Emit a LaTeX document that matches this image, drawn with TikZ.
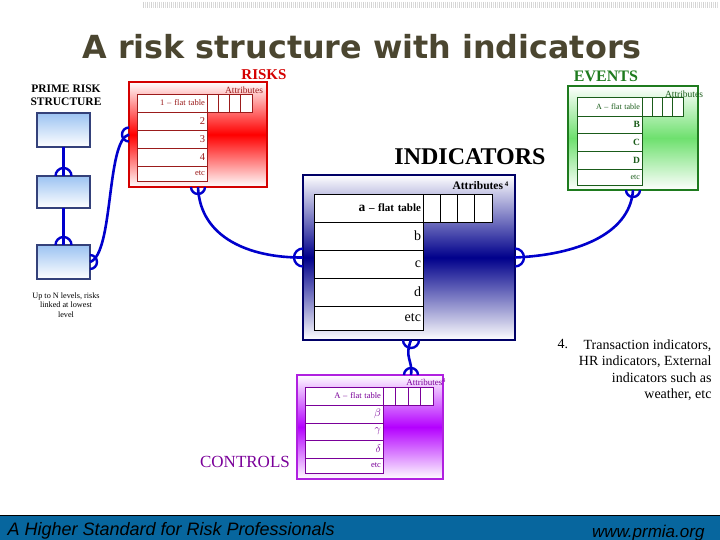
\documentclass[tikz,border=0pt]{standalone}
\usepackage{fontspec}
\setmainfont{Liberation Serif}
\newfontfamily\titlefont{DejaVu Sans}
\newfontfamily\footfont{Liberation Sans}
\definecolor{titlecol}{HTML}{4B4630}
\definecolor{riskred}{HTML}{D40000}
\definecolor{riskmid}{HTML}{FF0000}
\definecolor{risktxt}{HTML}{9B1B1B}
\definecolor{evgreen}{HTML}{1E7B1E}
\definecolor{evmid}{HTML}{6EE06E}
\definecolor{evtxt}{HTML}{1A5C1A}
\definecolor{indnavy}{HTML}{000066}
\definecolor{indmid}{HTML}{00008B}
\definecolor{ctrlcol}{HTML}{B020E0}
\definecolor{ctrlmid}{HTML}{B400FF}
\definecolor{ctrltxt}{HTML}{7A0099}
\definecolor{connblue}{HTML}{0000CC}
\definecolor{primeborder}{HTML}{34417A}
\definecolor{primetop}{HTML}{9CC3F2}
\definecolor{footblue}{HTML}{07669E}
\tikzset{
  fs/.style={font=\fontsize{#1}{#1}\selectfont},
  bigbox/.style={anchor=north west, inner sep=0pt, outer sep=0pt, line width=2.5pt},
  riskbox/.style={bigbox, draw=riskred, top color=white, bottom color=white, middle color=riskmid},
  evbox/.style={bigbox, draw=evgreen, top color=white, bottom color=white, middle color=evmid},
  indbox/.style={bigbox, draw=indnavy, top color=white, bottom color=white, middle color=indmid},
  ctrlbox/.style={bigbox, draw=ctrlcol, top color=white, bottom color=white, middle color=ctrlmid},
  primebox/.style={anchor=north west, inner sep=0pt, outer sep=0pt, line width=1.8pt, draw=primeborder, top color=primetop, bottom color=white, minimum width=53pt},
  tcell/.style={draw=#1, fill=white, anchor=north west, inner xsep=2pt, inner ysep=0pt, outer sep=0pt, align=right, line width=0.8pt},
  acell/.style={draw=#1, fill=white, anchor=north west, inner sep=0pt, outer sep=0pt, line width=0.8pt},
  conn/.style={draw=connblue, line width=2.6pt},
  ring/.style={draw=connblue, line width=2.4pt},
}
\begin{document}
\begin{tikzpicture}[x=1pt,y=-1pt]
\useasboundingbox (0,0) rectangle (720,540);
% top decoration
\foreach \i in {0,...,143}{
  \draw[gray!35, line width=0.6pt] ({143+4*\i},2) -- ++(0,6);
  \draw[gray!25, line width=0.4pt] ({145.2+4*\i},2) -- ++(0,6);
}
% title
\node[inner sep=0pt, font=\titlefont\bfseries\fontsize{31.8}{34}\selectfont, text=titlecol] (title) at (362,47) {A risk structure with indicators};

% prime risk structure
\node[align=center, font=\bfseries\fontsize{11.5}{13}\selectfont] (primelbl) at (66,95) {PRIME RISK\\STRUCTURE};
\node[primebox, minimum height=34pt] (p1) at (37,113) {};
\node[primebox, minimum height=32pt] (p2) at (37,176) {};
\node[primebox, minimum height=34pt] (p3) at (37,245) {};
\node[align=center, font=\fontsize{8.2}{9.7}\selectfont] (nlevels) at (66,305) {Up to N levels, risks\\linked at lowest\\level};

% RISKS
\node[inner sep=0pt, text=riskred, font=\bfseries\fontsize{15}{15}\selectfont] (risklbl) at (264,74.5) {RISKS};
\node[riskbox, minimum width=138pt, minimum height=105pt] (risks) at (129,82) {};
\node[text=risktxt, fs=9.5] (riskattr) at (244,90) {Attributes};
\node[tcell=risktxt, text width=66pt, minimum height=18pt, text=risktxt, fs=8.5] (r1) at (137,94) {1 -- flat table};
\node[tcell=risktxt, text width=66pt, minimum height=18pt, text=risktxt, fs=10.5] (r2) at (r1.south west) {2};
\node[tcell=risktxt, text width=66pt, minimum height=18pt, text=risktxt, fs=10.5] (r3) at (r2.south west) {3};
\node[tcell=risktxt, text width=66pt, minimum height=18pt, text=risktxt, fs=10.5] (r4) at (r3.south west) {4};
\node[tcell=risktxt, text width=66pt, minimum height=15pt, text=risktxt, fs=8.5] (r5) at (r4.south west) {etc};
\node[acell=risktxt, minimum width=11.25pt, minimum height=18pt] (ra1) at (207,94) {};
\node[acell=risktxt, minimum width=11.25pt, minimum height=18pt] (ra2) at (ra1.north east) {};
\node[acell=risktxt, minimum width=11.25pt, minimum height=18pt] (ra3) at (ra2.north east) {};
\node[acell=risktxt, minimum width=11.25pt, minimum height=18pt] (ra4) at (ra3.north east) {};

% EVENTS
\node[inner sep=0pt, text=evgreen, font=\bfseries\fontsize{16}{16}\selectfont] (evlbl) at (606,76) {EVENTS};
\node[evbox, minimum width=130pt, minimum height=104pt] (ev) at (568,86) {};
\node[text=evtxt, fs=9.5] (evattr) at (684,94) {Attributes};
\node[tcell=evtxt, text width=61pt, minimum height=19pt, text=evtxt, fs=8] (e1) at (577,97) {A -- flat table};
\node[tcell=evtxt, text width=61pt, minimum height=17pt, text=evtxt, font=\bfseries\fontsize{9.5}{9.5}\selectfont] (e2) at (e1.south west) {B};
\node[tcell=evtxt, text width=61pt, minimum height=18pt, text=evtxt, font=\bfseries\fontsize{9.5}{9.5}\selectfont] (e3) at (e2.south west) {C};
\node[tcell=evtxt, text width=61pt, minimum height=18pt, text=evtxt, font=\bfseries\fontsize{9.5}{9.5}\selectfont] (e4) at (e3.south west) {D};
\node[tcell=evtxt, text width=61pt, minimum height=16pt, text=evtxt, fs=8] (e5) at (e4.south west) {etc};
\node[acell=evtxt, minimum width=10.25pt, minimum height=19pt] (ea1) at (642,97) {};
\node[acell=evtxt, minimum width=10.25pt, minimum height=19pt] (ea2) at (ea1.north east) {};
\node[acell=evtxt, minimum width=10.25pt, minimum height=19pt] (ea3) at (ea2.north east) {};
\node[acell=evtxt, minimum width=10.25pt, minimum height=19pt] (ea4) at (ea3.north east) {};

% INDICATORS
\node[font=\bfseries\fontsize{24}{24}\selectfont] (indlbl) at (470,157) {INDICATORS};
\node[indbox, minimum width=212pt, minimum height=165pt] (ind) at (303,175) {};
\node[anchor=east, font=\bfseries\fontsize{11.5}{11.5}\selectfont] (indattr) at (512,186) {Attributes\,\raisebox{3pt}{\fontsize{7}{7}\selectfont 4}};
\node[tcell=black, text width=105pt, minimum height=28pt, font=\bfseries\fontsize{11}{11}\selectfont] (i1) at (314,194) {{\fontsize{13.5}{13.5}\selectfont a} -- flat table};
\node[tcell=black, text width=105pt, minimum height=28pt, fs=14] (i2) at (i1.south west) {b};
\node[tcell=black, text width=105pt, minimum height=28pt, fs=14] (i3) at (i2.south west) {c};
\node[tcell=black, text width=105pt, minimum height=28pt, fs=14] (i4) at (i3.south west) {d};
\node[tcell=black, text width=105pt, minimum height=24pt, fs=14] (i5) at (i4.south west) {etc};
\node[acell=black, minimum width=17.25pt, minimum height=28pt] (ia1) at (423,194) {};
\node[acell=black, minimum width=17.25pt, minimum height=28pt] (ia2) at (ia1.north east) {};
\node[acell=black, minimum width=17.25pt, minimum height=28pt] (ia3) at (ia2.north east) {};
\node[acell=black, minimum width=17.25pt, minimum height=28pt] (ia4) at (ia3.north east) {};

% CONTROLS
\node[text=ctrltxt, fs=17] (ctrllbl) at (245,462) {CONTROLS};
\node[ctrlbox, minimum width=146pt, minimum height=104pt] (ctrl) at (297,375) {};
\node[text=ctrltxt, fs=9] (ctrlattr) at (426,382) {Attributes\textsuperscript{4}};
\node[tcell=ctrltxt, text width=74pt, minimum height=18pt, text=ctrltxt, fs=8.5] (c1) at (305,387) {A -- flat table};
\node[tcell=ctrltxt, text width=74pt, minimum height=18pt, text=ctrltxt, fs=10.5] (c2) at (c1.south west) {$\beta$};
\node[tcell=ctrltxt, text width=74pt, minimum height=17pt, text=ctrltxt, fs=10.5] (c3) at (c2.south west) {$\gamma$};
\node[tcell=ctrltxt, text width=74pt, minimum height=18pt, text=ctrltxt, fs=10.5] (c4) at (c3.south west) {$\delta$};
\node[tcell=ctrltxt, text width=74pt, minimum height=15pt, text=ctrltxt, fs=8.5] (c5) at (c4.south west) {etc};
\node[acell=ctrltxt, minimum width=12.5pt, minimum height=18pt] (ca1) at (383,387) {};
\node[acell=ctrltxt, minimum width=12.5pt, minimum height=18pt] (ca2) at (ca1.north east) {};
\node[acell=ctrltxt, minimum width=12.5pt, minimum height=18pt] (ca3) at (ca2.north east) {};
\node[acell=ctrltxt, minimum width=12.5pt, minimum height=18pt] (ca4) at (ca3.north east) {};

% note
\node[anchor=north west, fs=14] (note4) at (554,336) {4.};
\node[anchor=north east, align=right, font=\fontsize{14}{16.5}\selectfont] (note) at (715,336) {Transaction indicators,\\HR indicators, External\\indicators such as\\weather, etc};

% connectors
\coordinate (ctrltop) at ([xshift=41pt]ctrl.north);
\draw[conn] (p1.south) -- (p2.north);
\draw[conn] (p2.south) -- (p3.north);
\draw[ring] ([xshift=-8pt]p2.north) arc[start angle=180, end angle=0, radius=8pt];
\draw[ring] ([xshift=-8pt]p3.north) arc[start angle=180, end angle=0, radius=8pt];
\draw[conn] (p3.east) .. controls (114,254) and (106,140) .. (risks.west);
\draw[ring] ([yshift=7pt]p3.east) arc[start angle=90, end angle=-90, radius=7pt];
\draw[ring] ([yshift=7pt]risks.west) arc[start angle=90, end angle=270, radius=7pt];
\draw[conn] (risks.south) .. controls (200,238) and (250,258) .. (ind.west);
\draw[ring] ([xshift=-7pt]risks.south) arc[start angle=180, end angle=360, radius=7pt];
\draw[ring] ([yshift=9pt]ind.west) arc[start angle=90, end angle=270, radius=9pt];
\draw[conn] (ev.south) .. controls (630,235) and (575,255) .. (ind.east);
\draw[ring] ([xshift=-7pt]ev.south) arc[start angle=180, end angle=360, radius=7pt];
\draw[ring] ([yshift=9pt]ind.east) arc[start angle=90, end angle=-90, radius=9pt];
\coordinate (indbot) at ([xshift=2pt]ind.south);
\draw[conn] (indbot) .. controls (404,358) and (413,360) .. (ctrltop);
\draw[ring] ([xshift=-8pt]indbot) arc[start angle=180, end angle=360, radius=8pt];
\draw[ring] ([xshift=-7pt]ctrltop) arc[start angle=180, end angle=0, radius=7pt];

% footer
\node[anchor=north west, fill=footblue, draw=black, line width=0.8pt, minimum width=722pt, minimum height=26pt, inner sep=0pt, outer sep=0pt] (footer) at (-1,515) {};
\node[anchor=base west, font=\footfont\itshape\fontsize{18}{20}\selectfont] (foot1) at (4,535) {A Higher Standard for Risk Professionals};
\node[anchor=base east, font=\footfont\itshape\fontsize{17}{18}\selectfont] (foot2) at (708,537) {www.prmia.org};
\end{tikzpicture}
\end{document}
